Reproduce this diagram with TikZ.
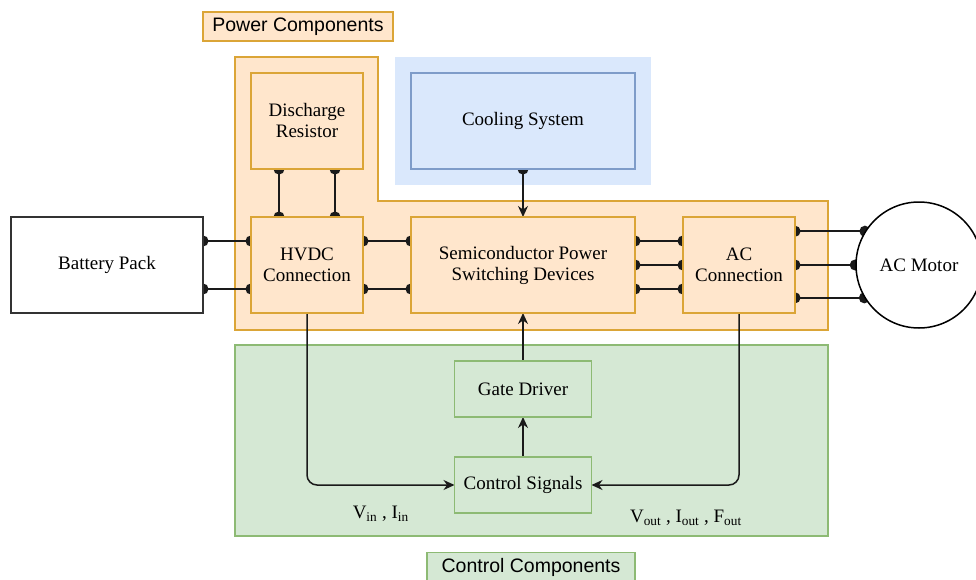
\documentclass[tikz,border=0pt]{standalone}
\usepackage{fontspec}
\setmainfont{Liberation Serif}
\setsansfont{Liberation Sans}
\usetikzlibrary{positioning, arrows.meta, calc}

\definecolor{pwrfill}{HTML}{FFE6CC}
\definecolor{pwrline}{HTML}{DBA537}
\definecolor{ctlfill}{HTML}{D5E8D4}
\definecolor{ctlline}{HTML}{8DBA74}
\definecolor{coolfill}{HTML}{DAE8FC}
\definecolor{coolline}{HTML}{7E9CC9}
\definecolor{wire}{HTML}{1A1A1A}

\pgfdeclarelayer{zones}
\pgfdeclarelayer{wires}
\pgfsetlayers{zones,wires,main}

\begin{document}
\begin{tikzpicture}[
  x=1pt, y=-1pt, >=Stealth,
  font=\fontsize{19}{21}\selectfont,
  box/.style  ={draw=#1, line width=1.5pt, align=center, outer sep=0pt, inner sep=2pt},
  pwr/.style  ={box=pwrline, fill=pwrfill, minimum width=112pt, minimum height=96pt},
  cool/.style ={box=coolline, fill=coolfill, minimum width=224pt, minimum height=96pt},
  ctl/.style  ={box=ctlline, fill=ctlfill, minimum width=137pt, minimum height=56pt},
  tag/.style  ={box=#1, font=\sffamily\fontsize{19.5}{22}\selectfont, minimum height=29pt},
  wiredot/.style={{Circle[length=11pt]}-{Circle[length=11pt]}, line width=1.5pt, draw=wire,
                  shorten <=-5.5pt, shorten >=-5.5pt},
  dotflow/.style={{Circle[length=11pt]}-{Stealth[length=11pt, width=10pt]}, line width=1.5pt,
                  draw=wire, shorten <=-5.5pt},
  flow/.style ={-{Stealth[length=11pt, width=10pt]}, line width=1.5pt, draw=wire},
  sig/.style  ={flow, rounded corners=10pt},
]
\useasboundingbox (0,0) rectangle (976,580);

% ---------- Power path ----------
\node[box=black!80, fill=white, minimum width=192pt, minimum height=96pt] (battery) at (107,265) {Battery Pack};
\node[pwr, right=48pt of battery]                      (hvdc)      {HVDC\\Connection};
\node[pwr, right=48pt of hvdc, minimum width=224pt]    (semi)      {Semiconductor Power\\Switching Devices};
\node[pwr, right=48pt of semi]                         (acc)       {AC\\Connection};
\node[pwr, above=48pt of hvdc]                         (discharge) {Discharge\\Resistor};
\node[cool, above=48pt of semi]                        (cooling)   {Cooling System};
\node[circle, draw=black, fill=white, line width=1.5pt, minimum size=126pt, inner sep=0pt] (motor) at (919,265) {AC Motor};

% ---------- Control path ----------
\node[ctl, below=48pt of semi] (gate) {Gate Driver};
\node[ctl, below=40pt of gate] (ctrl) {Control Signals};

% ---------- group labels ----------
\node[tag=pwrline, fill=pwrfill, minimum width=190pt] (pwrtag) at (298,26.5) {Power Components};
\node[tag=ctlline, fill=ctlfill, minimum width=208pt] (ctltag) at (531,567) {Control Components};

% ---------- zones ----------
\begin{pgfonlayer}{zones}
  \draw[pwrline, fill=pwrfill, line width=1.5pt]
    (235,57) -- (378,57) -- (378,201) -- (828,201) -- (828,330) -- (235,330) -- cycle;
  \fill[coolfill] (395,57) rectangle (651,185);
  \draw[ctlline, fill=ctlfill, line width=1.5pt] (235,345) rectangle (828,536);
\end{pgfonlayer}

% ---------- wires ----------
\begin{pgfonlayer}{wires}
  \foreach \dy in {24,-24} {
    \draw[wiredot] ([yshift=\dy pt]battery.east) -- ([yshift=\dy pt]hvdc.west);
    \draw[wiredot] ([yshift=\dy pt]hvdc.east) -- ([yshift=\dy pt]semi.west);
  }
  \foreach \dy in {24,0,-24}
    \draw[wiredot] ([yshift=\dy pt]semi.east) -- ([yshift=\dy pt]acc.east -| acc.west);
  \foreach \a in {148.4,180,211.6}
    \draw[wiredot] (acc.east |- motor.\a) -- (motor.\a);
  \foreach \dx in {-28,28}
    \draw[wiredot] ([xshift=\dx pt]discharge.south) -- ([xshift=\dx pt]hvdc.north);
  \draw[dotflow] (cooling.south) -- (semi.north);
  \draw[flow] (gate) -- (semi);
  \draw[flow] (ctrl) -- (gate);
  \draw[sig] (hvdc.south) |- node[pos=0.75, below=17pt] {V\textsubscript{in} , I\textsubscript{in}} (ctrl.west);
  \draw[sig] (acc.south) |- node[pos=0.68, below=21pt] {V\textsubscript{out} , I\textsubscript{out} , F\textsubscript{out}} (ctrl.east);
\end{pgfonlayer}

\end{tikzpicture}
\end{document}
